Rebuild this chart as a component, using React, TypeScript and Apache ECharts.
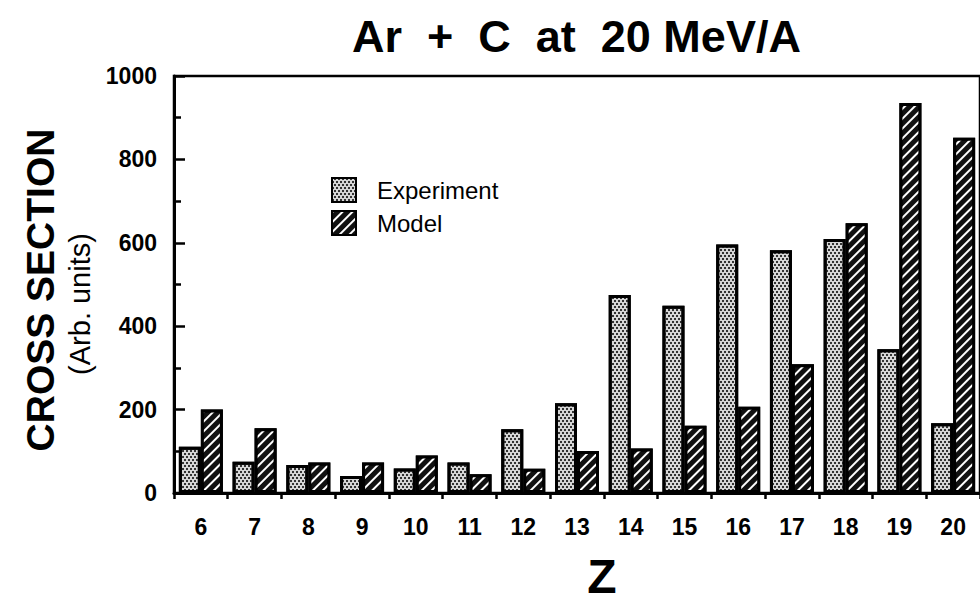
import React, { useEffect, useRef } from "react";
import * as echarts from "echarts";

const zCategories = ["6", "7", "8", "9", "10", "11", "12", "13", "14", "15", "16", "17", "18", "19", "20"];
const experimentValues = [111, 75, 67, 41, 59, 73, 153, 215, 475, 449, 596, 582, 609, 345, 167];
const modelValues = [200, 155, 73, 73, 90, 45, 58, 101, 107, 161, 207, 309, 647, 935, 852];
const yTicks = { min: 0, max: 1000, interval: 200 };

const FONT = "'Liberation Sans', Arial, Helvetica, sans-serif";

export default function App() {
  const ref = useRef<HTMLDivElement>(null);
  useEffect(() => {
    if (!ref.current) return;
    const chart = echarts.init(ref.current, null, { renderer: "svg" });
    const expStyle = {
      color: "#d6d6d6",
      borderColor: "#000",
      borderWidth: 3,
      decal: {
        symbol: "rect",
        symbolSize: 1,
        color: "#333333",
        dashArrayX: [[1.5, 1.5], [0, 1.5, 1.5, 0]],
        dashArrayY: [1.5, 0.5],
        rotation: 0,
      },
    };
    const modelStyle = {
      color: "#111",
      borderColor: "#000",
      borderWidth: 3,
      decal: {
        symbol: "rect",
        symbolSize: 1,
        color: "#ffffff",
        dashArrayX: [1, 0],
        dashArrayY: [1.6, 5],
        rotation: -Math.PI / 4,
      },
    };
    chart.setOption({
      animation: false,
      backgroundColor: "#ffffff",
      textStyle: { fontFamily: FONT, color: "#000" },
      title: {
        text: "Ar  +  C  at  20 MeV/A",
        left: 347,
        top: 9,
        textStyle: { fontFamily: FONT, fontSize: 45, fontWeight: "bold", color: "#000" },
      },
      legend: {
        orient: "vertical",
        left: 326,
        top: 172,
        itemWidth: 24,
        itemHeight: 24,
        itemGap: 7,
        icon: "rect",
        data: ["Experiment", "Model"],
        textStyle: { fontFamily: FONT, fontSize: 24, color: "#000", padding: [0, 0, 0, 16] },
      },
      grid: {
        left: 174,
        top: 76,
        width: 808,
        height: 417,
        show: true,
        borderColor: "#000",
        borderWidth: 2.5,
        backgroundColor: "transparent",
      },
      xAxis: {
        type: "category",
        data: zCategories,
        axisLine: { show: true, lineStyle: { color: "#000", width: 3 } },
        axisTick: { show: true, alignWithLabel: false, length: 6, lineStyle: { color: "#000", width: 2.5 } },
        axisLabel: {
          interval: 0,
          margin: 22,
          fontFamily: FONT,
          fontSize: 23,
          fontWeight: "bold",
          color: "#000",
        },
        splitLine: { show: false },
      },
      yAxis: {
        type: "value",
        min: yTicks.min,
        max: yTicks.max,
        interval: yTicks.interval,
        axisLine: { show: true, lineStyle: { color: "#000", width: 3 } },
        axisTick: { show: true, inside: true, length: 11, lineStyle: { color: "#000", width: 2.5 } },
        minorTick: { show: true, splitNumber: 2, length: 7, lineStyle: { color: "#000", width: 2.5 } },
        axisLabel: {
          margin: 17,
          fontFamily: FONT,
          fontSize: 23,
          fontWeight: "bold",
          color: "#000",
          formatter: (v: number) => String(v),
        },
        splitLine: { show: false },
      },
      graphic: [
        {
          type: "text",
          x: 40,
          y: 290,
          rotation: Math.PI / 2,
          style: {
            text: "CROSS SECTION",
            font: `bold 39px ${FONT}`,
            fill: "#000",
            textAlign: "center",
            textVerticalAlign: "middle",
          },
        },
        {
          type: "text",
          x: 80,
          y: 304,
          rotation: Math.PI / 2,
          style: {
            text: "(Arb. units)",
            font: `29px ${FONT}`,
            fill: "#000",
            textAlign: "center",
            textVerticalAlign: "middle",
          },
        },
        {
          type: "text",
          x: 602,
          y: 576,
          style: {
            text: "Z",
            font: `bold 48px ${FONT}`,
            fill: "#000",
            textAlign: "center",
            textVerticalAlign: "middle",
          },
        },
      ],
      series: [
        {
          name: "Experiment",
          type: "bar",
          data: experimentValues,
          barWidth: 22,
          barGap: "0%",
          itemStyle: expStyle,
        },
        {
          name: "Model",
          type: "bar",
          data: modelValues,
          barWidth: 22,
          barGap: "0%",
          itemStyle: modelStyle,
        },
      ],
    });
    return () => chart.dispose();
  }, []);
  return (
    <div
      ref={ref}
      style={{ position: "fixed", left: 0, top: 0, width: 980, height: 607 }}
    />
  );
}
